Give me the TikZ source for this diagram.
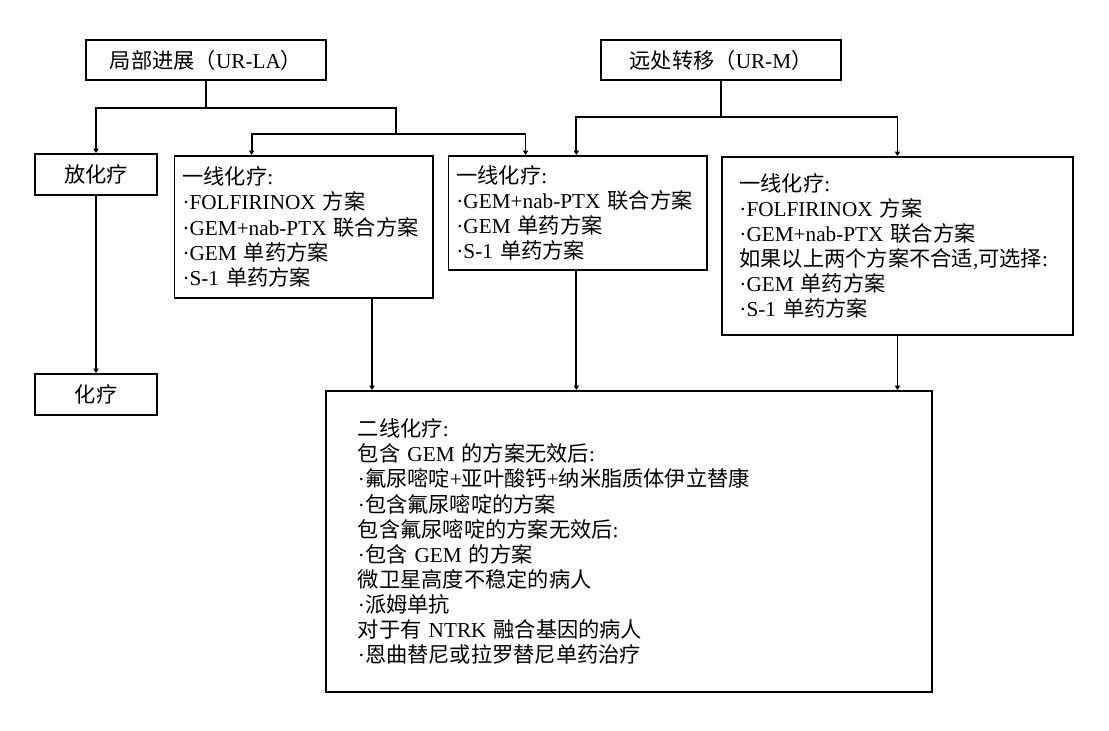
\documentclass[tikz,border=0pt]{standalone}
\usepackage{fontspec}
\setmainfont{Liberation Serif}
\newfontfamily\cjkfont{Noto Sans CJK SC}
\usetikzlibrary{arrows.meta,positioning}

% Chinese characters go to the CJK face
\XeTeXinterchartokenstate=1
\newXeTeXintercharclass\hanclass
\newcount\hancode
\hancode="3000
\loop\ifnum\hancode<"A000
  \XeTeXcharclass\hancode=\hanclass
  \advance\hancode by 1
\repeat
\hancode="FF00
\loop\ifnum\hancode<"FFF0
  \XeTeXcharclass\hancode=\hanclass
  \advance\hancode by 1
\repeat
\XeTeXinterchartoks 0 \hanclass = {\cjkfont}
\XeTeXinterchartoks 4095 \hanclass = {\cjkfont}
\XeTeXinterchartoks \hanclass 0 = {\rmfamily}
\XeTeXinterchartoks \hanclass 4095 = {\rmfamily}

\begin{document}
\begin{tikzpicture}[x=0.025cm, y=-0.025cm,
every node/.style={font=\fontsize{15.1}{17.8}\selectfont},
box/.style={draw,line width=1.3pt,inner sep=0pt,minimum height=1cm,minimum width=6cm},
small/.style={box,minimum width=3.06cm,minimum height=1.025cm},
plan/.style={draw,line width=1.3pt,align=left,anchor=north west,inner ysep=0pt},
link/.style={line width=1.3pt},
arrow/.style={-{Triangle[length=1.1mm,width=1.3mm]},line width=1.3pt}]
\useasboundingbox (0,0) rectangle (1109,730);
\node[box] (urla) at (206,60) {局部进展（UR-LA）};
\node[box] (urm) at (721,60) {远处转移（UR-M）};
\node[small] (radio) at (96,174.5) {放化疗};
\node[small] (chemo) at (96,394.5) {化疗};
\node[plan, text width=6.06cm, inner xsep=0.2cm, minimum height=3.55cm] (laline) at (173.6,155)
  {一线化疗:\\·FOLFIRINOX 方案\\·GEM+nab-PTX~联合方案\\·GEM 单药方案\\·S-1 单药方案};
\node[plan, text width=6.06cm, inner xsep=0.2cm, minimum height=2.85cm] (mline) at (447.5,155)
  {一线化疗:\\·GEM+nab-PTX~联合方案\\·GEM 单药方案\\·S-1 单药方案};
\node[plan, text width=7.9cm, inner xsep=0.445cm, minimum height=4.45cm] (mwide) at (720.7,156)
  {一线化疗:\\·FOLFIRINOX 方案\\·GEM+nab-PTX~联合方案\\如果以上两个方案不合适,可选择:\\·GEM 单药方案\\·S-1 单药方案};
\node[plan, text width=13.55cm, inner xsep=0.8cm, minimum height=7.525cm] (second) at (325,390)
  {二线化疗:\\包含 GEM 的方案无效后:\\·氟尿嘧啶+亚叶酸钙+纳米脂质体伊立替康\\·包含氟尿嘧啶的方案\\包含氟尿嘧啶的方案无效后:\\·包含 GEM 的方案\\微卫星高度不稳定的病人\\·派姆单抗\\对于有 NTRK 融合基因的病人\\·恩曲替尼或拉罗替尼单药治疗};
% branch points
\coordinate (jla) at (206,108);
\coordinate (jline) at (396.4,134);
\coordinate (jm) at (721,117);
\coordinate (lain) at ([xshift=1.95cm]laline.north west);
\coordinate (min) at ([xshift=1.95cm]mline.north west);
\coordinate (mmin) at ([xshift=3.22cm]mline.north west);
\coordinate (laout) at ([xshift=4.96cm]laline.south west);
\draw[link] (urla) -- (jla);
\draw[arrow] (jla) -| (radio);
\draw[link] (jla) -| (jline);
\draw[arrow] (jline) -| (lain);
\draw[arrow] (jline) -| (min);
\draw[link] (urm) -- (jm);
\draw[arrow] (jm) -| (mmin);
\draw[arrow] (jm) -| (mwide);
\draw[arrow] (radio) -- (chemo);
\draw[arrow] (laout) -- (laout |- second.north);
\draw[arrow] (mmin |- mline.south) -- (mmin |- second.north);
\draw[arrow] (mwide) -- (mwide |- second.north);
\end{tikzpicture}
\end{document}
